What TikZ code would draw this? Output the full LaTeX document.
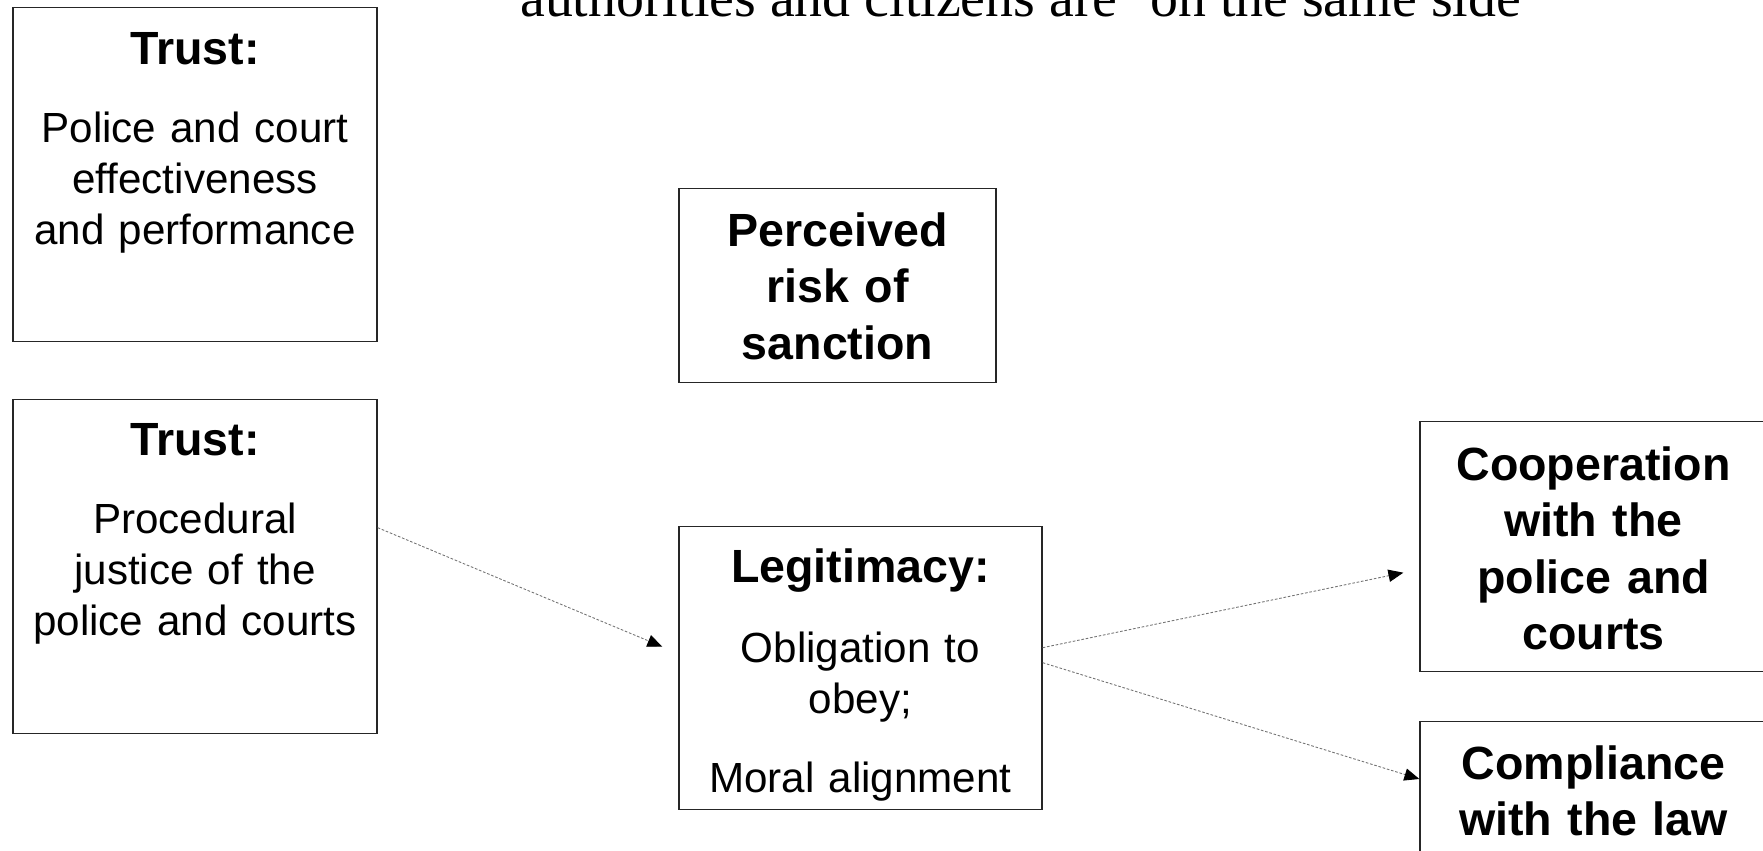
\documentclass[tikz,border=0pt]{standalone}
\usepackage{fontspec}
\setmainfont{Liberation Serif}
\setsansfont{Liberation Sans}
\usepackage{tikz}
\usetikzlibrary{arrows.meta}
\newcommand{\boxhead}[1]{{\bfseries\fontsize{26.5}{30}\selectfont #1}}

\begin{document}
\begin{tikzpicture}[
  x=0.02cm, y=-0.02cm,
  box/.style={draw=black!85, line width=0.8pt, anchor=north, inner sep=0pt,
              align=center, font=\sffamily\fontsize{24}{29.2}\selectfont},
  boldbox/.style={box, font=\sffamily\bfseries\fontsize{26.5}{32}\selectfont},
  arr/.style={black!55, line width=0.5pt, dash pattern=on 1.5pt off 1pt,
              -{Triangle[color=black, length=8.5pt, width=7pt]}}
]
\useasboundingbox (0,0) rectangle (1763,851);
\clip (0,0) rectangle (1763,851);

\node[anchor=base west, font=\fontsize{31.8}{36}\selectfont] (side) at (514,17)
  {authorities and citizens are ‘on the same side};

\node[box, text width=7.28cm, text height=1.14cm, text depth=5.54cm] (trustA) at (195,7)
  {\boxhead{Trust:}\\[15pt] Police and court\\ effectiveness\\ and performance};
\node[box, text width=7.28cm, text height=1.12cm, text depth=5.56cm] (trustB) at (195,399)
  {\boxhead{Trust:}\\[15pt] Procedural\\ justice of the\\ police and courts};
\node[boldbox, text width=6.34cm, text height=1.16cm, text depth=2.72cm] (risk) at (837.5,188)
  {Perceived\\ risk of\\ sanction};
\node[box, text width=7.26cm, text height=1.12cm, text depth=4.54cm] (legit) at (860.5,526)
  {\boxhead{Legitimacy:}\\[16pt] Obligation to\\ obey;\\[16pt] Moral alignment};
\node[boldbox, text width=6.94cm, text height=1.18cm, text depth=3.82cm] (coop) at (1593.5,421)
  {Cooperation\\ with the\\ police and\\ courts};
\node[boldbox, text width=6.94cm, text height=1.15cm, text depth=5cm] (comp) at (1593.5,721)
  {Compliance\\ with the law};

\draw[arr] ([yshift=0.78cm]trustB.east) -- ([xshift=-0.32cm, yshift=0.43cm]legit.west);
\draw[arr] ([yshift=0.41cm]legit.east) -- ([xshift=-0.32cm, yshift=-0.52cm]coop.west);
\draw[arr] ([yshift=0.11cm]legit.east) -- ([yshift=-1.16cm]comp.north west);
\end{tikzpicture}
\end{document}
